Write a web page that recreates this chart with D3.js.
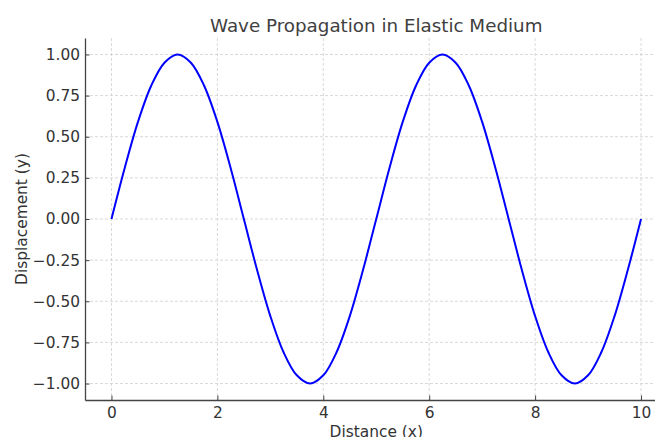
<!DOCTYPE html>
<html>
<head>
<meta charset="utf-8">
<script src="https://cdn.jsdelivr.net/npm/d3@7"></script>
<style>
  body { margin: 0; background: #fff; }
  text { font-family: "DejaVu Sans", sans-serif; fill: #333; }
</style>
</head>
<body>
<div id="chart"></div>
<script>
// values, every 0.25 along x
var distance = [0, 0.25, 0.5, 0.75, 1, 1.25, 1.5, 1.75, 2, 2.25, 2.5, 2.75, 3, 3.25, 3.5, 3.75,
  4, 4.25, 4.5, 4.75, 5, 5.25, 5.5, 5.75, 6, 6.25, 6.5, 6.75, 7, 7.25, 7.5, 7.75,
  8, 8.25, 8.5, 8.75, 9, 9.25, 9.5, 9.75, 10];
var displacement = [0, 0.31, 0.59, 0.81, 0.95, 1.0, 0.95, 0.81, 0.59, 0.31, 0, -0.31,
  -0.59, -0.81, -0.95, -1.0, -0.95, -0.81, -0.59, -0.31, 0, 0.31, 0.59, 0.81, 0.95, 1.0,
  0.95, 0.81, 0.59, 0.31, 0, -0.31, -0.59, -0.81, -0.95, -1.0, -0.95, -0.81, -0.59, -0.31, 0];
var xTicks = [0, 2, 4, 6, 8, 10];
var yTicks = [-1, -0.75, -0.5, -0.25, 0, 0.25, 0.5, 0.75, 1];

var width = 655, height = 437;
var plotLeft = 85, plotTop = 38, plotRight = 667.5, plotBottom = 400;

var svg = d3.select('#chart')
  .append('svg')
  .attr('width', width)
  .attr('height', height);

var x = d3.scaleLinear().domain([-0.5, 10.5]).range([plotLeft, plotRight]);
var y = d3.scaleLinear().domain([-1.1, 1.1]).range([plotBottom, plotTop]);

// grid
svg.append('g')
  .selectAll('line')
  .data(xTicks)
  .enter()
  .append('line')
  .attr('x1', function (d) { return x(d); })
  .attr('x2', function (d) { return x(d); })
  .attr('y1', plotTop)
  .attr('y2', plotBottom)
  .attr('stroke', '#cfcfcf')
  .attr('stroke-width', 0.8)
  .attr('stroke-dasharray', '3,2');
svg.append('g')
  .selectAll('line')
  .data(yTicks)
  .enter()
  .append('line')
  .attr('x1', plotLeft)
  .attr('x2', plotRight)
  .attr('y1', function (d) { return y(d); })
  .attr('y2', function (d) { return y(d); })
  .attr('stroke', '#cfcfcf')
  .attr('stroke-width', 0.8)
  .attr('stroke-dasharray', '3,2');

var data = distance.map(function (d, i) {
  return { x: d, y: displacement[i] };
});

var line = d3.line()
  .x(function (d) { return x(d.x); })
  .y(function (d) { return y(d.y); })
  .curve(d3.curveCatmullRom);

svg.append('path')
  .datum(data)
  .attr('fill', 'none')
  .attr('stroke', '#0000ff')
  .attr('stroke-width', 2)
  .attr('d', line);

// ticks point into the plot
var xAxis = d3.axisBottom(x)
  .tickValues(xTicks)
  .tickFormat(d3.format('d'))
  .tickSizeInner(-4.5)
  .tickSizeOuter(0)
  .tickPadding(7);
var yAxis = d3.axisLeft(y)
  .tickValues(yTicks)
  .tickFormat(function (d) { return d3.format('.2f')(d).replace('-', '\u2212'); })
  .tickSizeInner(-4.5)
  .tickSizeOuter(0)
  .tickPadding(5);

var gx = svg.append('g')
  .attr('transform', 'translate(0,' + plotBottom + ')')
  .call(xAxis);
var gy = svg.append('g')
  .attr('transform', 'translate(' + plotLeft + ',0)')
  .call(yAxis);

[gx, gy].forEach(function (g) {
  g.selectAll('path').attr('stroke', '#444').attr('stroke-width', 1.3);
  g.selectAll('line').attr('stroke', '#444').attr('stroke-width', 1);
  g.selectAll('text').attr('font-size', '15.4px').style('fill', '#333')
    .style('font-family', '"DejaVu Sans", sans-serif');
});

svg.append('text')
  .attr('x', (plotLeft + plotRight) / 2)
  .attr('y', 31.5)
  .attr('text-anchor', 'middle')
  .attr('font-size', '18.3px')
  .style('fill', '#404040')
  .text('Wave Propagation in Elastic Medium');

svg.append('text')
  .attr('x', (plotLeft + plotRight) / 2)
  .attr('y', 436.5)
  .attr('text-anchor', 'middle')
  .attr('font-size', '15.4px')
  .text('Distance (x)');

svg.append('text')
  .attr('transform', 'translate(26.5,' + (plotTop + plotBottom) / 2 + ') rotate(-90)')
  .attr('text-anchor', 'middle')
  .attr('font-size', '15.4px')
  .text('Displacement (y)');
</script>
</body>
</html>
